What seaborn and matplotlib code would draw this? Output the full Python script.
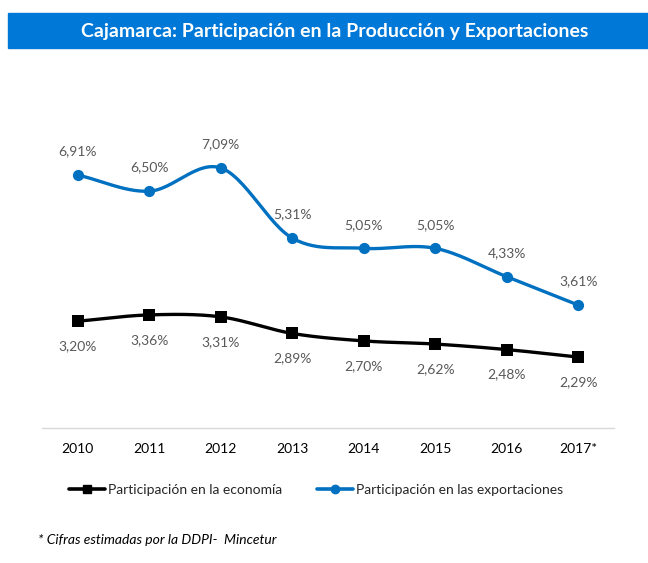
import numpy as np
import pandas as pd
import matplotlib
matplotlib.use("Agg")
from matplotlib import pyplot as plt
from matplotlib.patches import Rectangle
from matplotlib.lines import Line2D
import seaborn as sns

years = ["2010", "2011", "2012", "2013", "2014", "2015", "2016", "2017*"]
economia = [3.20, 3.36, 3.31, 2.89, 2.70, 2.62, 2.48, 2.29]
exportaciones = [6.91, 6.50, 7.09, 5.31, 5.05, 5.05, 4.33, 3.61]

BLUE = "#0070C0"
GREY = "#595959"


def smooth(xs, ys, n=30):
    # Catmull-Rom curve through the points (like Excel "smoothed line")
    xs = np.asarray(xs, float)
    ys = np.asarray(ys, float)
    px = np.concatenate([[2 * xs[0] - xs[1]], xs, [2 * xs[-1] - xs[-2]]])
    py = np.concatenate([[2 * ys[0] - ys[1]], ys, [2 * ys[-1] - ys[-2]]])
    ox, oy = [], []
    t = np.linspace(0, 1, n)
    for i in range(1, len(px) - 2):
        for p, out in ((px, ox), (py, oy)):
            p0, p1, p2, p3 = p[i - 1], p[i], p[i + 1], p[i + 2]
            out.extend(0.5 * ((2 * p1) + (-p0 + p2) * t
                              + (2 * p0 - 5 * p1 + 4 * p2 - p3) * t ** 2
                              + (-p0 + 3 * p1 - 3 * p2 + p3) * t ** 3))
    return np.array(ox), np.array(oy)


sns.set_style("white")
plt.rcParams["font.family"] = ["Lato", "DejaVu Sans"]

fig = plt.figure(figsize=(6.48, 5.63), dpi=100)
ax = fig.add_axes([0.0648, 0.2398, 0.8827, 0.618])

x = np.arange(len(years))
sx, sy = smooth(x, economia)
bx, by = smooth(x, exportaciones)
sns.lineplot(x=sx, y=sy, ax=ax, color="black", linewidth=2.4, sort=False)
sns.lineplot(x=bx, y=by, ax=ax, color=BLUE, linewidth=2.4, sort=False)
sns.scatterplot(x=x, y=economia, ax=ax, color="black", marker="s", s=75,
                edgecolor="black", linewidth=0, zorder=5)
sns.scatterplot(x=x, y=exportaciones, ax=ax, color=BLUE, marker="o", s=65,
                edgecolor=BLUE, linewidth=0, zorder=5)

for xi, v in zip(x, exportaciones):
    ax.annotate(f"{v:.2f}%".replace(".", ","), (xi, v), xytext=(0, 17),
                textcoords="offset points", ha="center", va="center",
                fontsize=10, color=GREY)
for xi, v in zip(x, economia):
    ax.annotate(f"{v:.2f}%".replace(".", ","), (xi, v), xytext=(0, -18),
                textcoords="offset points", ha="center", va="center",
                fontsize=10, color=GREY)

ax.set_xlim(-0.5, len(years) - 0.5)
ax.set_ylim(0.49, 9.32)
ax.set_xticks(x)
ax.set_xticklabels(years, fontsize=10, color="black")
ax.set_yticks([])
ax.tick_params(axis="x", length=0, pad=11)
for s in ["top", "left", "right"]:
    ax.spines[s].set_visible(False)
ax.spines["bottom"].set_color("#D9D9D9")
ax.spines["bottom"].set_linewidth(1)

# title bar
fig.patches.append(Rectangle((8 / 648, 1 - 48 / 563), 640 / 648, 35 / 563,
                             transform=fig.transFigure, color="#0078D7", zorder=0))
fig.text(335 / 648, 1 - 31 / 563, "Cajamarca: Participación en la Producción y Exportaciones",
         ha="center", va="center", color="white", fontsize=14, fontweight="bold")

handles = [Line2D([], [], color="black", linewidth=2.6, marker="s", markersize=6),
           Line2D([], [], color=BLUE, linewidth=2.6, marker="o", markersize=6)]
fig.legend(handles, ["Participación en la economía", "Participación en las exportaciones"],
           loc="center", bbox_to_anchor=(0.488, 1 - 490 / 563), ncol=2, frameon=False,
           fontsize=10, handlelength=2.6, handletextpad=0.2, columnspacing=2.5)

fig.text(38 / 648, 1 - 540 / 563, "* Cifras estimadas por la DDPI-  Mincetur",
         ha="left", va="center", fontsize=10, style="italic", color="black")

fig.savefig("out.png", dpi=100)
